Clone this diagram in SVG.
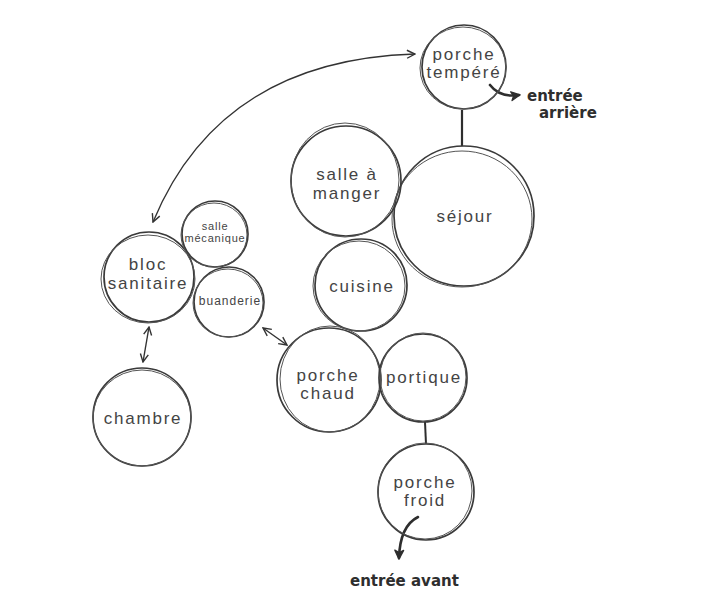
<svg xmlns="http://www.w3.org/2000/svg" width="727" height="612" viewBox="0 0 727 612">
<defs>
<style>
.c{fill:none;stroke:#3a3a3a;stroke-width:1.7}
.c2{fill:none;stroke:#555;stroke-width:1}
.t{font-family:"Liberation Sans",Arial,sans-serif;font-size:17px;letter-spacing:1.8px;fill:#444;text-anchor:middle}
.s{font-family:"Liberation Sans",Arial,sans-serif;fill:#444;text-anchor:middle}
.h{font-family:"DejaVu Sans","Liberation Sans",sans-serif;font-weight:bold;font-size:15px;fill:#2e2e2e}
.l{fill:none;stroke:#333;stroke-width:1.4}
.b{fill:none;stroke:#2e2e2e;stroke-width:2.6;stroke-linecap:round}
</style>
<marker id="v" viewBox="0 0 10 10" refX="9" refY="5" markerWidth="10" markerHeight="10" markerUnits="userSpaceOnUse" orient="auto-start-reverse">
<path d="M1,1 L9,5 L1,9" fill="none" stroke="#333" stroke-width="1.4"/>
</marker>
<marker id="bv" viewBox="0 0 10 10" refX="8" refY="5" markerWidth="11" markerHeight="11" markerUnits="userSpaceOnUse" orient="auto">
<path d="M1,1 L9,5 L1,9 L3,5 Z" fill="#2e2e2e" stroke="#2e2e2e" stroke-width="1.2" stroke-linejoin="round"/>
</marker>
</defs>
<rect width="727" height="612" fill="#fff"/>
<g id="connectors">
<path class="l" d="M153,222 Q220,60 415,54" marker-start="url(#v)" marker-end="url(#v)"/>
<path class="l" d="M149,327 L143,362" marker-start="url(#v)" marker-end="url(#v)"/>
<path class="l" d="M263,328 L287,345" marker-start="url(#v)" marker-end="url(#v)"/>
<path d="M462,110 L462,146" stroke="#2e2e2e" stroke-width="2.2"/>
<path d="M425,422 L426,444" stroke="#2e2e2e" stroke-width="2"/>
<path class="b" d="M490,85 Q500,98 519,95" marker-end="url(#bv)"/>
<path class="b" d="M418,517 Q400,526 399,558" marker-end="url(#bv)"/>
</g>
<g id="porche-tempere">
<circle class="c" cx="464" cy="67" r="42"/>
<ellipse class="c2" cx="463" cy="68" rx="43" ry="41"/>
<text class="t" x="464" y="60">porche</text>
<text class="t" x="464" y="78">tempéré</text>
</g>
<g id="sejour">
<circle class="c" cx="464" cy="216" r="70"/>
<ellipse class="c2" cx="462" cy="219" rx="70" ry="68"/>
<text class="t" x="465" y="222">séjour</text>
</g>
<g id="salle-a-manger">
<circle class="c" cx="346" cy="181" r="55"/>
<ellipse class="c2" cx="345" cy="180" rx="54" ry="57"/>
<text class="t" x="347" y="180">salle à</text>
<text class="t" x="347" y="199">manger</text>
</g>
<g id="cuisine">
<circle class="c" cx="361" cy="285" r="46"/>
<ellipse class="c2" cx="359" cy="286" rx="46" ry="45"/>
<text class="t" x="362" y="292">cuisine</text>
</g>
<g id="bloc-sanitaire">
<circle class="c" cx="149" cy="277" r="45"/>
<ellipse class="c2" cx="148" cy="279" rx="47" ry="44"/>
<text class="t" x="148" y="270">bloc</text>
<text class="t" x="148" y="289">sanitaire</text>
</g>
<g id="salle-mecanique">
<circle class="c" cx="215" cy="234" r="33"/>
<ellipse class="c2" cx="214" cy="235" rx="33" ry="32"/>
<text class="s" x="215" y="230" font-size="11" letter-spacing="0.8">salle</text>
<text class="s" x="215" y="242" font-size="11" letter-spacing="0.8">mécanique</text>
</g>
<g id="buanderie">
<circle class="c" cx="229" cy="302" r="35"/>
<ellipse class="c2" cx="228" cy="303" rx="35" ry="34"/>
<text class="s" x="230" y="305" font-size="12" letter-spacing="1">buanderie</text>
</g>
<g id="chambre">
<circle class="c" cx="142" cy="417" r="49"/>
<ellipse class="c2" cx="142" cy="418" rx="49" ry="48"/>
<text class="t" x="143" y="424">chambre</text>
</g>
<g id="porche-chaud">
<circle class="c" cx="329" cy="380" r="52"/>
<ellipse class="c2" cx="330" cy="379" rx="50" ry="53"/>
<text class="t" x="328" y="381">porche</text>
<text class="t" x="328" y="399">chaud</text>
</g>
<g id="portique">
<circle class="c" cx="423" cy="378" r="44"/>
<ellipse class="c2" cx="423" cy="377" rx="43" ry="44"/>
<text class="t" x="424" y="383">portique</text>
</g>
<g id="porche-froid">
<circle class="c" cx="426" cy="492" r="48"/>
<ellipse class="c2" cx="425" cy="491" rx="47" ry="48"/>
<text class="t" x="425" y="488">porche</text>
<text class="t" x="425" y="506">froid</text>
</g>
<g id="labels">
<text class="h" x="527" y="101">entrée</text>
<text class="h" x="539" y="118">arrière</text>
<text class="h" x="350" y="586" font-size="14.5">entrée avant</text>
</g>
</svg>
